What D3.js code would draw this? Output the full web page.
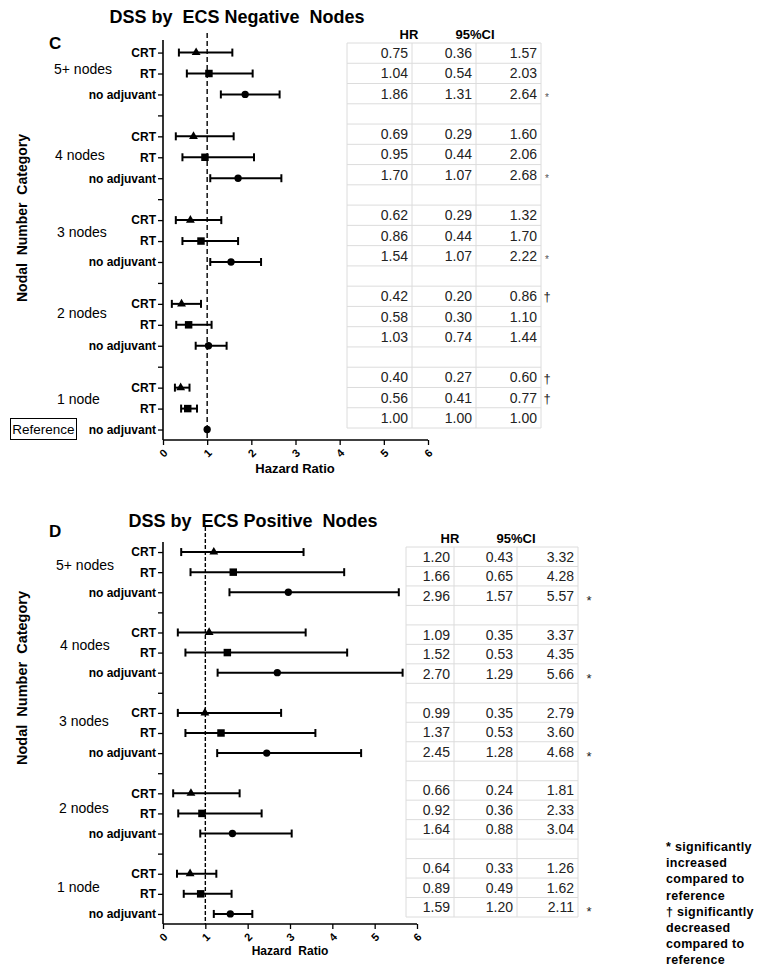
<!DOCTYPE html>
<html><head><meta charset="utf-8">
<script src="https://cdn.jsdelivr.net/npm/d3@7"></script>
<style>
html,body{margin:0;padding:0;background:#fff;}
svg{display:block;}
text{font-family:"Liberation Sans",Arial,sans-serif;}
</style></head>
<body>
<svg id="chart" width="757" height="972"></svg>
<script>
// ---------- data ----------
const groups = ["5+ nodes","4 nodes","3 nodes","2 nodes","1 node"];
const treatments = ["CRT","RT","no adjuvant"];
const xTicks = [0,1,2,3,4,5,6];

const hrC  = [0.75,1.04,1.86, 0.69,0.95,1.70, 0.62,0.86,1.54, 0.42,0.58,1.03, 0.40,0.56,1.00];
const loC  = [0.36,0.54,1.31, 0.29,0.44,1.07, 0.29,0.44,1.07, 0.20,0.30,0.74, 0.27,0.41,1.00];
const hiC  = [1.57,2.03,2.64, 1.60,2.06,2.68, 1.32,1.70,2.22, 0.86,1.10,1.44, 0.60,0.77,1.00];
const sigC = ["","","*", "","","*", "","","*", "†","","", "†","†",""];

const hrD  = [1.20,1.66,2.96, 1.09,1.52,2.70, 0.99,1.37,2.45, 0.66,0.92,1.64, 0.64,0.89,1.59];
const loD  = [0.43,0.65,1.57, 0.35,0.53,1.29, 0.35,0.53,1.28, 0.24,0.36,0.88, 0.33,0.49,1.20];
const hiD  = [3.32,4.28,5.57, 3.37,4.35,5.66, 2.79,3.60,4.68, 1.81,2.33,3.04, 1.26,1.62,2.11];
const sigD = ["","","*", "","","*", "","","*", "","","", "","","*"];

const footnote = ["* significantly","increased","compared to","reference","† significantly","decreased","compared to","reference"];

// ---------- drawing ----------
const svg = d3.select("#chart");
const NB = "\u00a0";

function panel(cfg){
  const g = svg.append("g");
  const nRows = groups.length*4 - 1;
  const x = d3.scaleLinear().domain([0,6]).range([cfg.x0, cfg.x1]);
  const y = d3.scaleLinear().domain([cfg.yd0, cfg.yd1]).range([cfg.yTop, cfg.yBot]);

  const rows = [];
  groups.forEach((grp,gi)=>treatments.forEach((t,ti)=>{
    const i = gi*3+ti;
    rows.push({row: gi*4+ti, label:t, hr:cfg.hr[i], lo:cfg.lo[i], hi:cfg.hi[i], sig:cfg.sig[i], tr:ti});
  }));

  // title & letter
  g.append("text").attr("x",cfg.titleX).attr("y",cfg.titleY).attr("text-anchor","middle")
    .attr("font-weight","bold").attr("font-size",18).text(cfg.title);
  g.append("text").attr("x",49).attr("y",cfg.letterY).attr("font-weight","bold")
    .attr("font-size",17).text(cfg.letter);

  // dashed reference line
  g.append("line").attr("x1",x(1)).attr("x2",x(1)).attr("y1",cfg.dashTop).attr("y2",cfg.yBot)
    .attr("stroke","#000").attr("stroke-width",1.4).attr("stroke-dasharray",cfg.dash);

  // y axis
  const tickRows = d3.range(nRows);
  const yAxis = d3.axisLeft(y).tickValues(tickRows).tickSize(5)
    .tickFormat(d=>{const r=rows.find(o=>o.row===d);return r?r.label:"";});
  const ya = g.append("g").attr("transform",`translate(${cfg.x0},0)`).call(yAxis);
  ya.select(".domain").attr("stroke-width",1.6).attr("d",`M-0,${cfg.yTop}V${cfg.yBot}`);
  ya.selectAll(".tick line").attr("stroke-width",1.3);
  ya.selectAll(".tick text").attr("font-weight","bold").attr("font-size",12)
    .attr("font-family","Liberation Sans, Arial, sans-serif").attr("fill","#000").attr("x",-7);

  // x axis
  const xAxis = d3.axisBottom(x).tickValues(xTicks).tickSize(5).tickFormat(d3.format("d"));
  const xa = g.append("g").attr("transform",`translate(0,${cfg.yBot})`).call(xAxis);
  xa.select(".domain").attr("stroke-width",1.6).attr("d",`M${cfg.x0},0H${cfg.x1}`);
  xa.selectAll(".tick line").attr("stroke-width",1.3);
  xa.selectAll(".tick text").attr("font-weight","bold").attr("font-size",11)
    .attr("font-family","Liberation Sans, Arial, sans-serif").attr("fill","#000")
    .attr("y",0).attr("dy","0.35em").attr("text-anchor","middle")
    .attr("transform","translate(0,13) rotate(-45)");

  g.append("text").attr("x",cfg.xTitleX).attr("y",cfg.xTitleY).attr("text-anchor","middle")
    .attr("font-weight","bold").attr("font-size",cfg.xTitleSize).text(cfg.xTitle);

  // y title
  g.append("text").attr("transform",`translate(27,${cfg.yTitleY}) rotate(-90)`).attr("text-anchor","middle")
    .attr("font-weight","bold").attr("font-size",cfg.yTitleSize)
    .text("Nodal"+NB+NB+"Number"+NB+NB+"Category");

  // group labels
  groups.forEach((grp,gi)=>{
    g.append("text").attr("x",cfg.groupX[gi]).attr("y",cfg.groupY[gi]).attr("dy","0.35em")
      .attr("font-size",14).text(grp);
  });

  // error bars
  const eb = g.selectAll(".eb").data(rows).enter().append("g");
  eb.filter(d=>d.hi>d.lo).append("line").attr("x1",d=>x(d.lo)).attr("x2",d=>x(d.hi))
    .attr("y1",d=>y(d.row)).attr("y2",d=>y(d.row)).attr("stroke","#000").attr("stroke-width",2);
  ["lo","hi"].forEach(k=>{
    eb.filter(d=>d.hi>d.lo).append("line").attr("x1",d=>x(d[k])).attr("x2",d=>x(d[k]))
      .attr("y1",d=>y(d.row)-4).attr("y2",d=>y(d.row)+4).attr("stroke","#000").attr("stroke-width",2);
  });
  const sym = [d3.symbolTriangle, d3.symbolSquare, d3.symbolCircle];
  const sz = [34, 56, 42];
  eb.append("path").attr("transform",d=>`translate(${x(d.hr)},${y(d.row)})`)
    .attr("d",d=>d3.symbol().type(sym[d.tr]).size(sz[d.tr])())
    .attr("fill","#000");

  // reference box
  if (cfg.refBox){
    g.append("rect").attr("x",10.5).attr("y",418.5).attr("width",66).attr("height",21)
      .attr("fill","none").attr("stroke","#000").attr("stroke-width",1);
    g.append("text").attr("x",43.5).attr("y",429).attr("dy","0.35em").attr("text-anchor","middle")
      .attr("font-size",13.5).text("Reference");
  }

  // table
  const t = cfg.table;
  const ty = d3.scaleLinear().domain([0,nRows]).range([t.top,t.bot]);
  const tg = g.append("g");
  d3.range(nRows+1).forEach(i=>{
    tg.append("line").attr("x1",t.cols[0]).attr("x2",t.cols[3]).attr("y1",ty(i)).attr("y2",ty(i))
      .attr("stroke","#dcdcdc").attr("stroke-width",1);
  });
  t.cols.forEach(cx=>{
    tg.append("line").attr("x1",cx).attr("x2",cx).attr("y1",t.top).attr("y2",t.bot)
      .attr("stroke","#dcdcdc").attr("stroke-width",1);
  });
  tg.append("text").attr("x",t.hrX).attr("y",t.headY).attr("text-anchor","middle")
    .attr("font-weight","bold").attr("font-size",13).text("HR");
  tg.append("text").attr("x",t.ciX).attr("y",t.headY).attr("text-anchor","middle")
    .attr("font-weight","bold").attr("font-size",13).text("95%CI");
  rows.forEach(r=>{
    [r.hr,r.lo,r.hi].forEach((v,ci)=>{
      tg.append("text").attr("x",t.cols[ci+1]-4).attr("y",ty(r.row+0.5)).attr("dy","0.36em")
        .attr("text-anchor","end").attr("font-family","Lato, 'Open Sans', sans-serif")
        .attr("font-size",14).attr("fill","#222").text(v.toFixed(2));
    });
    if (r.sig){
      const isStar = r.sig==="*";
      tg.append("text").attr("x",t.sigX).attr("y",ty(r.row+0.5)).attr("dy", isStar? t.starDy : "0.4em")
        .attr("text-anchor","middle").attr("font-family","Lato, 'Open Sans', sans-serif")
        .attr("font-size", isStar? t.starSize : 13).attr("fill", isStar? t.starColor : "#222").text(r.sig);
    }
  });
}

panel({
  letter:"C", letterY:49, title:"DSS by"+NB+NB+"ECS Negative"+NB+NB+"Nodes", titleX:237, titleY:23,
  x0:163, x1:428, yTop:40, yBot:440, yd0:-0.6, yd1:18.5, dashTop:33, dash:"5,3",
  hr:hrC, lo:loC, hi:hiC, sig:sigC,
  xTitle:"Hazard Ratio", xTitleX:295, xTitleY:473, xTitleSize:13,
  yTitleY:218, yTitleSize:14,
  groupX:[54,55,57,57,57], groupY:[69,155,232,313,399],
  refBox:true,
  table:{top:43, bot:428, cols:[347,412,476,541], hrX:409, ciX:475, headY:38.5,
         sigX:547, starDy:"0.75em", starSize:10, starColor:"#555"}
});

panel({
  letter:"D", letterY:537, title:"DSS by"+NB+NB+"ECS Positive"+NB+NB+"Nodes", titleX:253, titleY:527,
  x0:163, x1:417, yTop:542, yBot:924, yd0:-0.5, yd1:18.5, dashTop:527, dash:"4,2",
  hr:hrD, lo:loD, hi:hiD, sig:sigD,
  xTitle:"Hazard"+NB+NB+"Ratio", xTitleX:290, xTitleY:955, xTitleSize:12,
  yTitleY:678, yTitleSize:14.5,
  groupX:[56,60,59,59,57], groupY:[565,645,721,808,887],
  refBox:false,
  table:{top:547, bot:917, cols:[406,454,517,578], hrX:450, ciX:516, headY:542.5,
         sigX:589, starDy:"0.7em", starSize:13, starColor:"#222"}
});

// footnote
svg.append("g").selectAll("text").data(footnote).enter().append("text")
  .attr("x",666).attr("y",(d,i)=>851+i*16.2)
  .attr("font-weight","bold").attr("font-size",12.5).attr("letter-spacing",0.3)
  .text(d=>d);
</script>
</body></html>
